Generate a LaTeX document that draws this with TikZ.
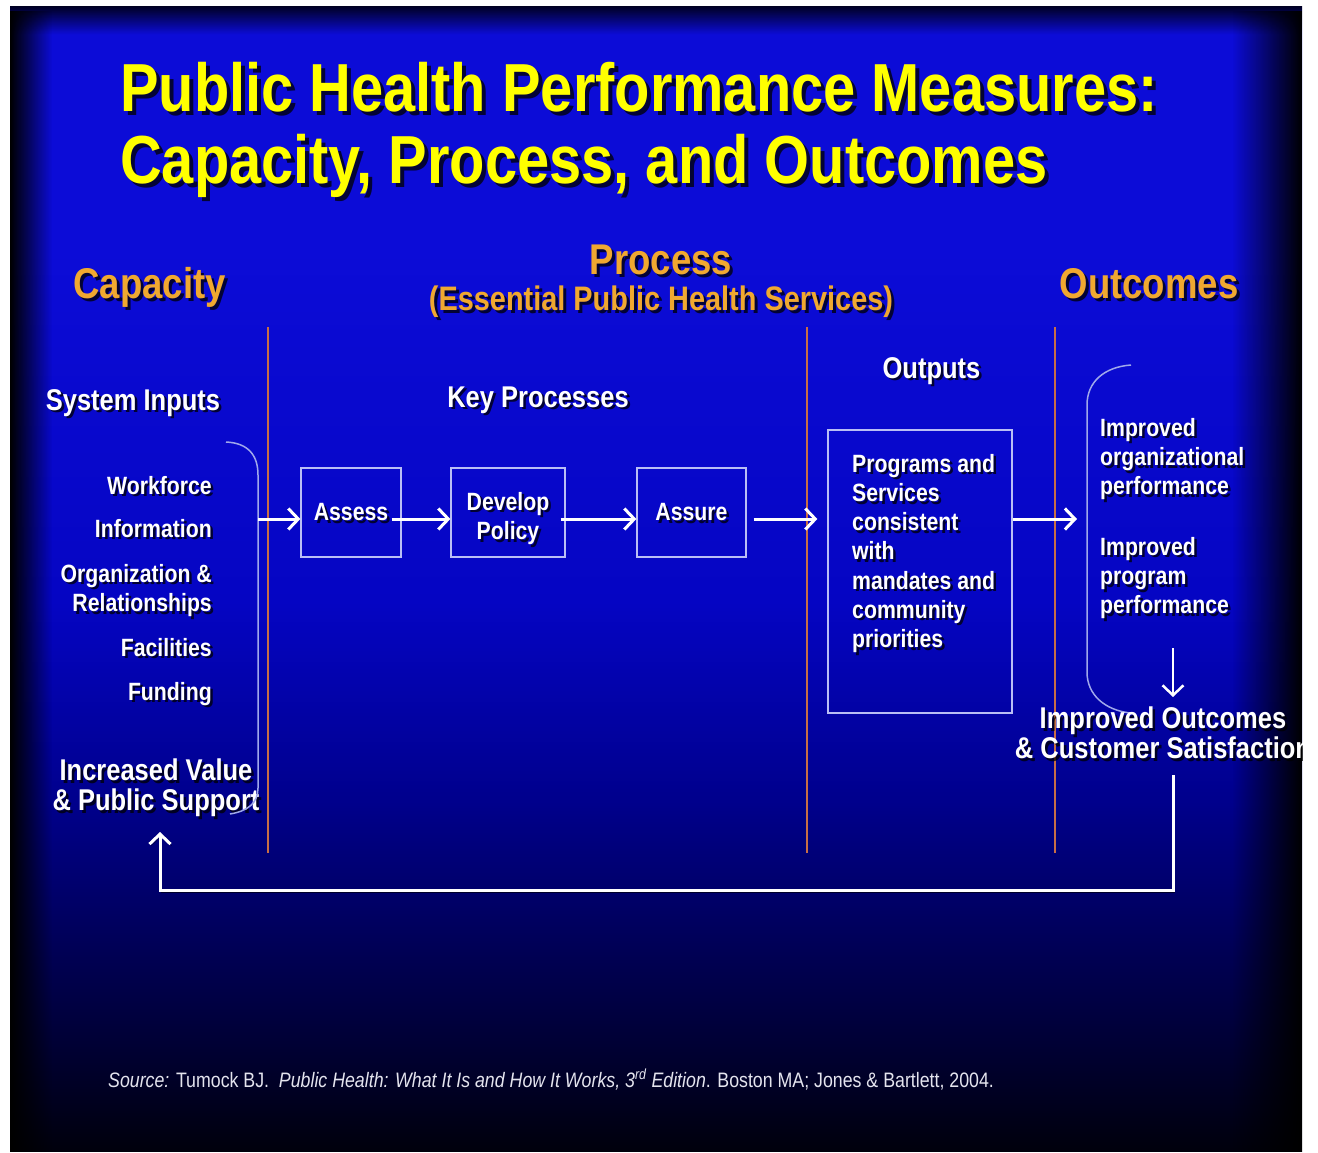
\documentclass[tikz,border=0pt]{standalone}
\usepackage{fontspec}
\usetikzlibrary{arrows.meta,calc,fadings}
\newfontfamily\cf[FakeStretch=0.85]{Liberation Sans}
\definecolor{ttl}{RGB}{255,255,0}
\definecolor{org}{RGB}{240,168,48}
\definecolor{vline}{RGB}{200,110,70}
\definecolor{boxc}{RGB}{185,190,245}
\definecolor{brk}{RGB}{160,168,235}
\definecolor{srcc}{RGB}{228,228,238}
\definecolor{bgA}{RGB}{0,0,12}
\definecolor{bgB}{RGB}{0,0,50}
\definecolor{bgC}{RGB}{0,0,85}
\definecolor{bgD}{RGB}{0,0,140}
\definecolor{bgE}{RGB}{5,5,195}
\definecolor{bgF}{RGB}{12,12,215}
\definecolor{bgG}{RGB}{0,0,40}
\pgfdeclareverticalshading{slidebg}{100bp}{color(0bp)=(bgA); color(25bp)=(bgA); color(29.4bp)=(bgB); color(33.8bp)=(bgC); color(40.3bp)=(bgD); color(49bp)=(bgE); color(64.4bp)=(bgF); color(73.8bp)=(bgF); color(75bp)=(bgG); color(100bp)=(bgG)}
\tikzfading[name=fadeRight, left color=transparent!0, right color=transparent!100]
\tikzfading[name=fadeLeft, left color=transparent!100, right color=transparent!0]
\tikzset{
  tx/.style={inner sep=0pt, text=white, font=\cf\bfseries\fontsize{25}{29.2}\selectfont},
  shd/.style={draw=none, text=black, text opacity=0.75},
  arr/.style={draw=white, line width=3pt, -{Straight Barb[length=10pt,width=21pt]}},
  pbox/.style={draw=boxc, line width=1.3pt},
  vl/.style={draw=vline, line width=1.2pt},
  brace/.style={draw=brk, line width=1.5pt},
  hdr/.style={text=org, font=\cf\bfseries\fontsize{43}{46}\selectfont, anchor=base},
  big/.style={font=\cf\bfseries\fontsize{30}{30}\selectfont},
}
\def\so{2.5}
\newcommand\stx[4][]{%
  \node[tx,#1,shd] at ($#3+(\so,\so)$) {#4};
  \node[tx,#1] (#2) at #3 {#4};}
\begin{document}
\begin{tikzpicture}[x=1pt,y=-1pt]
\useasboundingbox (0,0) rectangle (1318,1153);
\fill[white] (0,0) rectangle (1318,1153);
\begin{scope}
\clip (10,7) rectangle (1302,1151);
\fill[shading=slidebg] (10,7) rectangle (1302,1151);
\fill[black, path fading=fadeRight] (10,7) rectangle (52,1151);
\fill[black, path fading=fadeLeft] (1232,7) rectangle (1302,1151);

% title
\def\so{4}
\stx[font=\cf\bfseries\fontsize{68}{72}\selectfont, text=ttl, anchor=north west, align=left]{title}{(120,62)}{Public Health Performance Measures:\\Capacity, Process, and Outcomes}

% column headers
\def\so{3}
\stx[hdr]{capacity}{(149.5,298)}{Capacity}
\stx[hdr]{process}{(661,274)}{Process}
\stx[hdr, font=\cf\bfseries\fontsize{34}{36}\selectfont]{eph}{(661,310)}{(Essential Public Health Services)}
\stx[hdr]{outcomes}{(1149,298)}{Outcomes}

% separators
\draw[vl] (268,327) -- (268,853);
\draw[vl] (807,327) -- (807,853);
\draw[vl] (1055,327) -- (1055,853);

\def\so{2.5}
\stx[big, anchor=base]{sysin}{(133,410)}{System Inputs}
\stx[big, anchor=base]{keyproc}{(538,407)}{Key Processes}
\stx[big, anchor=base]{outputs}{(931.5,378)}{Outputs}

% inputs
\stx[anchor=base east]{workforce}{(212,494)}{Workforce}
\stx[anchor=base east]{information}{(212,537)}{Information}
\stx[anchor=north east, align=right]{organization}{(212,564)}{Organization \&\\Relationships}
\stx[anchor=base east]{facilities}{(212,656)}{Facilities}
\stx[anchor=base east]{funding}{(212,700)}{Funding}
\stx[big, anchor=north, align=center]{incval}{(156,759)}{Increased Value\\\& Public Support}

% brackets
\draw[brace] (226,442) .. controls (248,443) and (258,455) .. (258,475) -- (258,788) .. controls (258,803) and (248,811) .. (230,814);
\draw[brace] (1131,365) .. controls (1104,367) and (1087,382) .. (1087,405) -- (1087,672) .. controls (1087,695) and (1105,710) .. (1130,713);

% process boxes
\stx[pbox, minimum width=100pt, minimum height=89pt]{assess}{(351,512.5)}{Assess}
\stx[pbox, minimum width=114pt, minimum height=89pt, align=center]{develop}{(508,512.5)}{\rule{0pt}{30pt}Develop\\Policy}
\stx[pbox, minimum width=109pt, minimum height=89pt]{assure}{(691.5,512.5)}{Assure}
\node[pbox, minimum width=184pt, minimum height=283pt] (outbox) at (920,571.5) {};
\stx[anchor=north west, align=left]{outtxt}{(852,454)}{Programs and\\Services\\consistent\\with\\mandates and\\community\\priorities}

% outcomes
\stx[anchor=north west, align=left]{rt1}{(1100,418)}{Improved\\organizational\\performance}
\stx[anchor=north west, align=left]{rt2}{(1100,537)}{Improved\\program\\performance}
\stx[big, anchor=north, align=center]{impout}{(1163,707)}{Improved Outcomes\\\& Customer Satisfaction}

% connectors
\coordinate (row) at (0,519);
\coordinate (lb) at (258,519);
\coordinate (rb) at (1087,519);
\coordinate (dnA) at (1173,648);
\coordinate (dnB) at (1173,697);
\coordinate (fbA) at (1173,775);
\coordinate (fbB) at (160,832);
\draw[arr] (lb) -- (assess.west |- row);
\draw[arr, shorten <=-10pt] (assess.east |- row) -- (develop.west |- row);
\draw[arr, shorten <=-5pt] (develop.east |- row) -- (assure.west |- row);
\draw[arr, shorten <=7pt, shorten >=10pt] (assure.east |- row) -- (outbox.west |- row);
\draw[arr, shorten >=10pt] (outbox.east |- row) -- (rb);
\draw[arr, line width=2.5pt] (dnA) -- (dnB);
\draw[arr, preaction={draw=black, opacity=0.6, transform canvas={shift={(1.5pt,-2pt)}}}] (fbA) -- ++(0,115) -| (fbB);

% source
\node[inner sep=0pt, anchor=base west, text=srcc, font=\cf\fontsize{20.9}{24}\selectfont] (src) at (108,1087) {\textit{Source:} Tumock BJ.\ \ \textit{Public Health: What It Is and How It Works, 3\textsuperscript{rd} Edition}. Boston MA; Jones \& Bartlett, 2004.};
\end{scope}
\end{tikzpicture}
\end{document}
